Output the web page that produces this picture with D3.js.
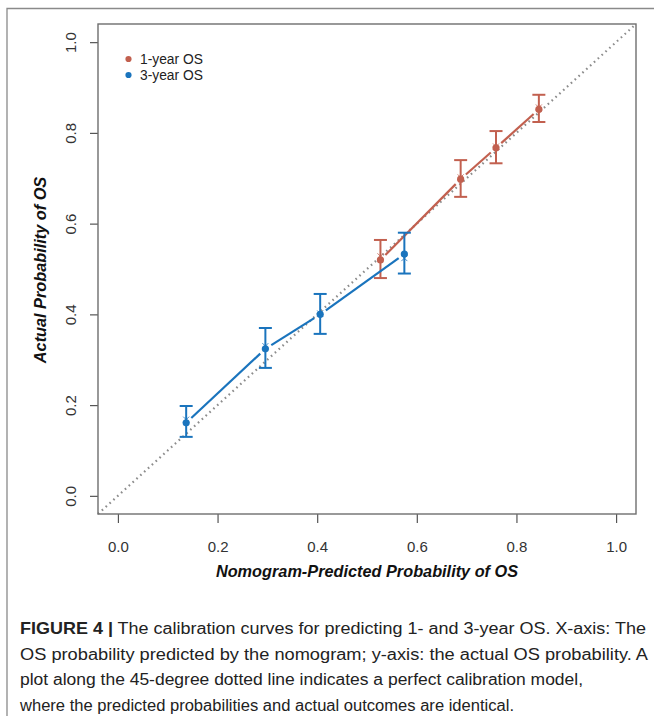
<!DOCTYPE html>
<html><head><meta charset="utf-8">
<script src="https://cdn.jsdelivr.net/npm/d3@7"></script>
<style>body{margin:0;background:#fff}svg{display:block}</style>
</head><body>
<svg id="c" width="654" height="716"></svg>
<script>
// ---- data ----
const tickValues = [0, 0.2, 0.4, 0.6, 0.8, 1.0];
const tickLabels = ["0.0", "0.2", "0.4", "0.6", "0.8", "1.0"];
const seriesNames = ["1-year OS", "3-year OS"];
const oneYearPred = [0.527, 0.688, 0.759, 0.845];
const oneYearObs = [0.520, 0.698, 0.767, 0.852];
const oneYearLow = [0.480, 0.659, 0.733, 0.824];
const oneYearHigh = [0.564, 0.740, 0.804, 0.884];
const oneYearCross = [0.528, 0.702, 0.770, 0.856];
const threeYearPred = [0.137, 0.296, 0.406, 0.575];
const threeYearObs = [0.161, 0.324, 0.400, 0.533];
const threeYearLow = [0.130, 0.282, 0.357, 0.490];
const threeYearHigh = [0.198, 0.370, 0.445, 0.580];
const threeYearCross = [0.168, 0.330, 0.402, 0.524];
const xLabel = "Nomogram-Predicted Probability of OS";
const yLabel = "Actual Probability of OS";
const captionBold = "FIGURE 4 |";
const captionLines = [
  " The calibration curves for predicting 1- and 3-year OS. X-axis: The",
  "OS probability predicted by the nomogram; y-axis: the actual OS probability. A",
  "plot along the 45-degree dotted line indicates a perfect calibration model,",
  "where the predicted probabilities and actual outcomes are identical."
];
const colors = ["#c2604f", "#1a74bd"];

const svg = d3.select("#c");
// outer frame
svg.append("path").attr("d", "M7,716 L7,8.5 L654,8.5")
  .attr("fill", "none").attr("stroke", "#8a8a8a").attr("stroke-width", 1.3);

const x = d3.scaleLinear().domain([-0.04, 1.04]).range([98, 636]);
const y = d3.scaleLinear().domain([-0.04, 1.04]).range([514, 24]);

// diagonal
svg.append("line")
  .attr("x1", x(-0.04)).attr("y1", y(-0.04)).attr("x2", x(1.04)).attr("y2", y(1.04))
  .attr("stroke", "#8c8c8c").attr("stroke-width", 2.2)
  .attr("stroke-dasharray", "1.6,3.6");

// axes
const fmt = d => tickLabels[tickValues.indexOf(d)];
const gx = svg.append("g").attr("transform", `translate(0,${y.range()[0]})`)
  .call(d3.axisBottom(x).tickValues(tickValues).tickFormat(fmt).tickSize(9).tickPadding(18));
const gy = svg.append("g").attr("transform", `translate(${x.range()[0]},0)`)
  .call(d3.axisLeft(y).tickValues(tickValues).tickFormat(fmt).tickSize(8));
[gx, gy].forEach(g => {
  g.select(".domain").remove();
  g.selectAll(".tick line").attr("stroke", "#555").attr("stroke-width", 1.2);
  g.selectAll("text").attr("font-family", "Liberation Sans, Arial, sans-serif")
    .attr("font-size", 15).attr("fill", "#333");
});
gy.selectAll("text").attr("transform", "rotate(-90)")
  .attr("x", 0).attr("y", -22).attr("dy", null).attr("text-anchor", "middle");

// box
svg.append("rect").attr("x", 98).attr("y", 24).attr("width", 538).attr("height", 490)
  .attr("fill", "none").attr("stroke", "#6e6e6e").attr("stroke-width", 1.4);

// axis labels
svg.append("text").attr("x", 367).attr("y", 577).attr("text-anchor", "middle")
  .attr("font-family", "Liberation Sans, Arial, sans-serif").attr("font-size", 16.3)
  .attr("font-weight", "bold").attr("font-style", "italic").attr("fill", "#111").text(xLabel);
svg.append("text").attr("transform", "translate(46,270) rotate(-90)").attr("text-anchor", "middle")
  .attr("font-family", "Liberation Sans, Arial, sans-serif").attr("font-size", 16.3)
  .attr("font-weight", "bold").attr("font-style", "italic").attr("fill", "#111").text(yLabel);

// series
const series = [
  {pred: oneYearPred, obs: oneYearObs, lo: oneYearLow, hi: oneYearHigh, cr: oneYearCross},
  {pred: threeYearPred, obs: threeYearObs, lo: threeYearLow, hi: threeYearHigh, cr: threeYearCross}
];
series.forEach((s, si) => {
  const c = colors[si];
  const g = svg.append("g");
  const pts = s.pred.map((p, i) => [x(p), y(s.obs[i])]);
  const gap = 7;
  for (let i = 0; i < pts.length - 1; i++) {
    const [x1, y1] = pts[i], [x2, y2] = pts[i + 1];
    const L = Math.hypot(x2 - x1, y2 - y1);
    const ux = (x2 - x1) / L, uy = (y2 - y1) / L;
    g.append("line")
      .attr("x1", x1 + ux * gap).attr("y1", y1 + uy * gap)
      .attr("x2", x2 - ux * gap).attr("y2", y2 - uy * gap)
      .attr("stroke", c).attr("stroke-width", 2.2);
  }
  s.pred.forEach((p, i) => {
    const cx = x(p);
    g.append("line").attr("x1", cx).attr("x2", cx).attr("y1", y(s.lo[i])).attr("y2", y(s.hi[i]))
      .attr("stroke", c).attr("stroke-width", 2);
    [s.lo[i], s.hi[i]].forEach(v => {
      g.append("line").attr("x1", cx - 6.5).attr("x2", cx + 6.5).attr("y1", y(v)).attr("y2", y(v))
        .attr("stroke", c).attr("stroke-width", 2);
    });
    const cy = y(s.cr[i]);
    g.append("path").attr("d", `M${cx-3},${cy-3}L${cx+3},${cy+3}M${cx-3},${cy+3}L${cx+3},${cy-3}`)
      .attr("stroke", c).attr("stroke-width", 1).attr("opacity", 0.8);
    g.append("circle").attr("cx", cx).attr("cy", y(s.obs[i])).attr("r", 3.6).attr("fill", c);
  });
});

// legend
seriesNames.forEach((n, i) => {
  svg.append("circle").attr("cx", 128.5).attr("cy", 59 + i * 16).attr("r", 3.1).attr("fill", colors[i]);
  svg.append("text").attr("x", 140).attr("y", 64 + i * 16)
    .attr("font-family", "Liberation Sans, Arial, sans-serif").attr("font-size", 13.8)
    .attr("fill", "#222").text(n);
});

// caption
const capW = [626, 628, 563, 494];
captionLines.forEach((line, i) => {
  const t = svg.append("text").attr("x", 20).attr("y", 634 + i * 25.7)
    .attr("font-family", "Liberation Sans, Arial, sans-serif").attr("font-size", 17.3)
    .attr("fill", "#222").attr("textLength", capW[i]).attr("lengthAdjust", "spacingAndGlyphs");
  if (i === 0) t.append("tspan").attr("font-weight", "bold").text(captionBold);
  t.append("tspan").text(line);
});
</script>
</body></html>
